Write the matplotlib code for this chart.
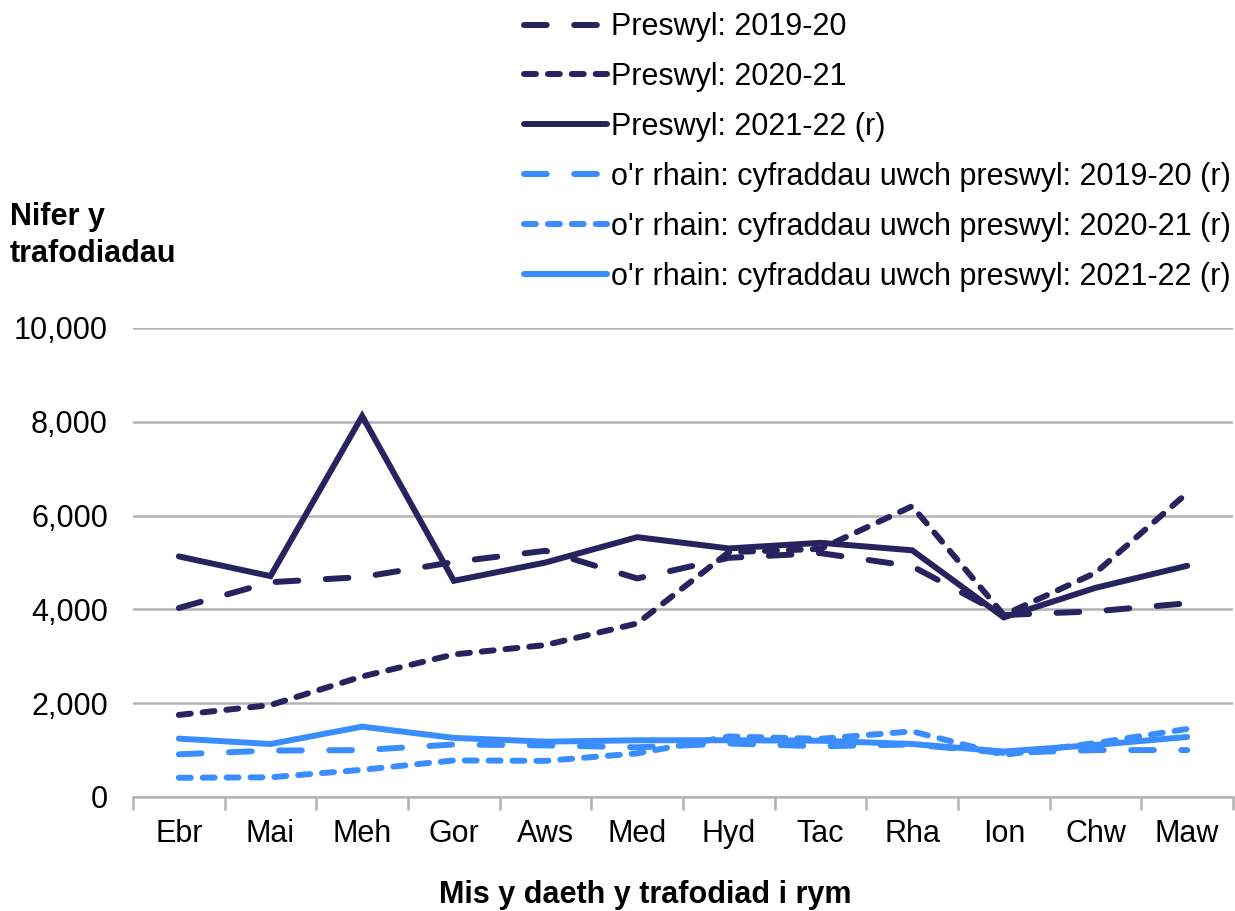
import numpy as np
import matplotlib.pyplot as plt

plt.rcParams['font.family'] = ['Liberation Sans', 'DejaVu Sans']

months = ['Ebr', 'Mai', 'Meh', 'Gor', 'Aws', 'Med', 'Hyd', 'Tac', 'Rha', 'Ion', 'Chw', 'Maw']

# Preswyl (residential) transactions
pres_1920 = [4030, 4580, 4690, 5010, 5250, 4660, 5100, 5200, 4920, 3880, 3960, 4130]
pres_2021 = [1750, 1960, 2570, 3040, 3240, 3700, 5220, 5290, 6200, 3880, 4780, 6480]
pres_2122 = [5130, 4710, 8120, 4610, 5000, 5540, 5300, 5420, 5260, 3830, 4460, 4930]

# of which: higher residential rates
uwch_1920 = [910, 990, 1000, 1120, 1100, 1060, 1140, 1080, 1120, 940, 1000, 1000]
uwch_2021 = [410, 420, 580, 780, 770, 930, 1290, 1240, 1400, 900, 1150, 1450]
uwch_2122 = [1245, 1130, 1500, 1260, 1180, 1210, 1210, 1200, 1130, 970, 1110, 1280]

labels = ['Preswyl: 2019-20', 'Preswyl: 2020-21', 'Preswyl: 2021-22 (r)',
          "o'r rhain: cyfraddau uwch preswyl: 2019-20 (r)",
          "o'r rhain: cyfraddau uwch preswyl: 2020-21 (r)",
          "o'r rhain: cyfraddau uwch preswyl: 2021-22 (r)"]

navy = '#27235F'
blue = '#3A8DFF'
long_dash = (0, (3.8, 4.6))
short_dash = (0, (2.0, 2.0))

fig = plt.figure(figsize=(12.35, 9.11), dpi=100)
ax = fig.add_axes([133 / 1235, 114 / 911, 1100 / 1235, 469 / 911])

x = np.arange(len(months))
series = [(pres_1920, navy, long_dash), (pres_2021, navy, short_dash), (pres_2122, navy, '-'),
          (uwch_1920, blue, long_dash), (uwch_2021, blue, short_dash), (uwch_2122, blue, '-')]
for (vals, col, ls), lab in zip(series, labels):
    ax.plot(x, vals, color=col, linestyle=ls, lw=4.3, label=lab,
            dash_capstyle='round', solid_capstyle='round', solid_joinstyle='miter')

ax.set_xlim(-0.5, len(months) - 0.5)
ax.set_ylim(0, 10000)
ax.set_yticks(np.arange(0, 10001, 2000))
ax.set_yticklabels([f'{v:,}' for v in range(0, 10001, 2000)])
ax.grid(axis='y', color='#B3B3B3', lw=1.8)
ax.set_axisbelow(True)

# tick marks at category boundaries, labels at centres
ax.set_xticks(np.arange(-0.5, len(months), 1))
ax.set_xticklabels([])
ax.set_xticks(x, minor=True)
ax.set_xticklabels(months, minor=True)
ax.tick_params(axis='x', which='major', length=9, width=1.8, color='#B3B3B3')
ax.tick_params(axis='x', which='minor', length=0, pad=16, labelsize=22)
ax.tick_params(axis='y', length=0, pad=18, labelsize=22)

for s in ['top', 'right', 'left']:
    ax.spines[s].set_visible(False)
ax.spines['bottom'].set_color('#B3B3B3')
ax.spines['bottom'].set_linewidth(1.8)

fig.text(10 / 1235, 1 - 202 / 911, 'Nifer y\ntrafodiadau', fontsize=22, fontweight='bold',
         va='top', ha='left', linespacing=1.3)
fig.text(645 / 1235, 1 - 895 / 911, 'Mis y daeth y trafodiad i rym', fontsize=22,
         fontweight='bold', ha='center', va='center')

fig.legend(loc='upper left', bbox_to_anchor=(512 / 1235, 1.0), frameon=False, fontsize=22,
           handlelength=2.7, handletextpad=0.15, labelspacing=0.65, borderaxespad=0)

plt.savefig('out.png', dpi=100)
